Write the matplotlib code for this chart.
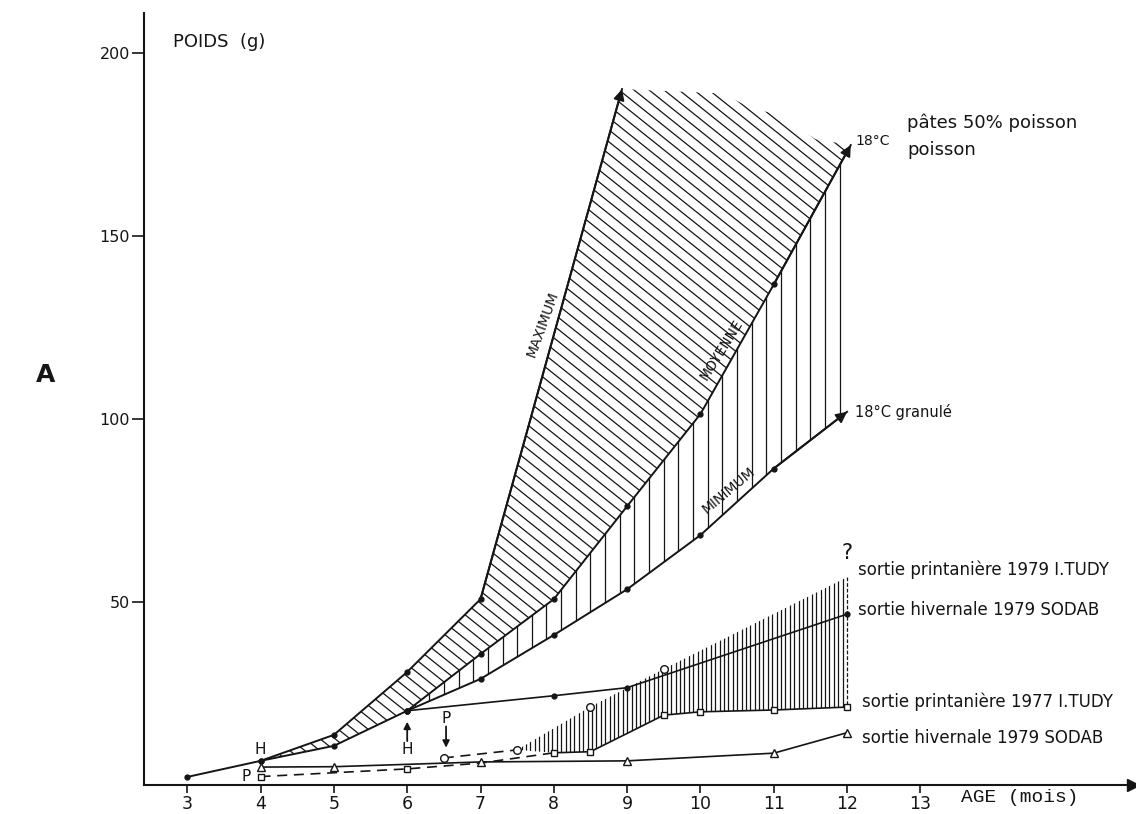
import numpy as np
import matplotlib.pyplot as plt
from matplotlib.patches import Polygon
from matplotlib.collections import LineCollection

plt.rcParams['font.family'] = ['DejaVu Sans']

INK = '#151515'

# courbes 18°C (poids en g selon l'age en mois)
max_x = [3, 4, 5, 6, 7, 8.93]
max_y = [2.2, 6.6, 13.7, 30.9, 50.8, 190.2]
moy_x = [4, 5, 6, 7, 8, 9, 10, 11, 12.05]
moy_y = [6.6, 10.7, 20.3, 35.8, 50.8, 76.2, 101.4, 136.8, 174.9]
min_x = [6, 7, 8, 9, 10, 11, 12.0]
min_y = [20.3, 29.0, 41.0, 53.5, 68.3, 86.5, 102.0]
# bord haut de la zone hachuree (fin des traits)
haut_x = [8.93, 10.3, 10.72, 11.0, 11.57, 12.05]
haut_y = [190.2, 189.0, 184.7, 183.6, 176.5, 174.9]

# sorties en mer
hiv79_x = [6, 8, 9, 12]
hiv79_y = [20.3, 24.4, 26.6, 46.7]
prin79_x = [6.5, 7.5, 8.5, 9.5, 12]
prin79_y = [7.4, 9.6, 21.4, 31.7, 56.8]
prin77_x = [4, 6, 7, 8, 8.5, 9.5, 10, 11, 12]
prin77_y = [2.3, 4.4, 6.0, 8.8, 9.1, 19.1, 20.0, 20.5, 21.3]
hiv79b_x = [4, 5, 7, 9, 11, 12]
hiv79b_y = [4.9, 5.0, 6.3, 6.6, 8.7, 14.3]

x_ticks = [3, 4, 5, 6, 7, 8, 9, 10, 11, 12, 13]
y_ticks = [50, 100, 150, 200]

fig = plt.figure(figsize=(11.36, 8.14), dpi=100)
ax = fig.add_axes([144 / 1136, 1 - 785 / 814, (1133 - 144) / 1136, (785 - 13) / 814])
ax.set_xlim(2.41, 15.9)
ax.set_ylim(0, 211)

for s in ['top', 'right']:
    ax.spines[s].set_visible(False)
for s in ['left', 'bottom']:
    ax.spines[s].set_linewidth(1.5)
    ax.spines[s].set_color(INK)
ax.plot(1, 0, '>', color=INK, ms=8, transform=ax.get_yaxis_transform(), clip_on=False)
ax.plot(0, 1, '^', color=INK, ms=8, transform=ax.get_xaxis_transform(), clip_on=False)

ax.set_xticks(x_ticks)
ax.set_yticks(y_ticks)
ax.tick_params(axis='x', direction='out', length=6, width=1.2, labelsize=12.5, pad=1, colors=INK)
ax.tick_params(axis='y', direction='out', length=9, width=1.2, labelsize=11.5, pad=1, colors=INK)

# echelle en pixels pour les hachures
p0 = ax.transData.transform((0, 0))
p1 = ax.transData.transform((1, 1))
sx, sy = p1[0] - p0[0], p1[1] - p0[1]


def hachures(poly, segs, lw=0.9):
    patch = Polygon(poly, closed=True, fc='none', ec='none')
    ax.add_patch(patch)
    lc = LineCollection(segs, colors=INK, linewidths=lw)
    ax.add_collection(lc)
    lc.set_clip_path(patch)


# zone maximum / moyenne : traits obliques
poly1 = list(zip(max_x[1:], max_y[1:])) + list(zip(haut_x[1:], haut_y[1:])) \
    + list(zip(moy_x[::-1], moy_y[::-1]))
pente = -0.8 * sx / sy
pas = 12.0 / sy
segs = [[(2.5, c + pente * (2.5 - 8)), (13, c + pente * (13 - 8))]
        for c in np.arange(-150, 320, pas)]
hachures(poly1, segs)

# zone moyenne / minimum : traits verticaux
poly2 = list(zip(moy_x[2:], moy_y[2:])) + list(zip(min_x[::-1], min_y[::-1]))
segs = [[(x, 0), (x, 211)] for x in np.arange(11.9, 6.0, -0.2)]
hachures(poly2, segs)

# zone sorties printanieres : traits serres
poly3 = list(zip(prin79_x[1:], prin79_y[1:])) \
    + list(zip(prin77_x[:2:-1], prin77_y[:2:-1])) + [(prin79_x[1], prin79_y[1])]
segs = [[(x, 0), (x, 120)] for x in np.arange(7.5, 12.0, 0.06)]
hachures(poly3, segs, lw=0.9)
ax.plot([prin79_x[-1], prin77_x[-1]], [prin79_y[-1], prin77_y[-1]],
        color=INK, lw=0.9, ls=(0, (3, 1.5)))

# courbes principales avec fleches
for xs, ys in [(max_x, max_y), (moy_x, moy_y), (min_x, min_y)]:
    ax.plot(xs, ys, color=INK, lw=1.4)
    ax.plot(xs[:-1], ys[:-1], 'o', color=INK, ms=3.5)
    ax.annotate('', xy=(xs[-1], ys[-1]), xytext=(xs[-2], ys[-2]),
                arrowprops=dict(arrowstyle='-|>', color=INK, lw=1.4,
                                mutation_scale=16, shrinkA=0, shrinkB=0))

# sorties
ax.plot(hiv79_x, hiv79_y, '-o', color=INK, lw=1.2, ms=3.5)
ax.plot(prin79_x[:2], prin79_y[:2], color=INK, lw=1.2, ls=(0, (6, 4)))
ax.plot(prin79_x[:4], prin79_y[:4], 'o', color=INK, mfc='white', ms=5.5, mew=1.0)
ax.plot(prin77_x[:4], prin77_y[:4], color=INK, lw=1.2, ls=(0, (6, 4)))
ax.plot(prin77_x[3:], prin77_y[3:], color=INK, lw=1.2)
ax.plot(prin77_x, prin77_y, 's', color=INK, mfc='white', ms=4.5, mew=1.0,
        markevery=[0, 1, 3, 4, 5, 6, 7, 8])
ax.plot(hiv79b_x, hiv79b_y, '-^', color=INK, mfc='white', lw=1.2, ms=5.5, mew=1.0)

# textes
ax.text(2.81, 203, 'POIDS  (g)', fontsize=13, color=INK, va='center')
ax.text(13.56, -3.3, 'AGE (mois)', fontsize=14, family='Liberation Mono',
        color=INK, va='center', clip_on=False)
fig.text(0.04, 0.539, 'A', fontsize=18, fontweight='bold', color=INK,
         ha='center', va='center')

ax.text(7.85, 126, 'MAXIMUM', fontsize=10, rotation=70, ha='center', va='center', color=INK)
ax.text(10.28, 119, 'MOYENNE', fontsize=10, rotation=58, ha='center', va='center', color=INK)
ax.text(10.39, 80.5, 'MINIMUM', fontsize=10, rotation=40, ha='center', va='center', color=INK)

ax.text(12.11, 176, '18°C', fontsize=10, color=INK, va='center')
ax.text(12.82, 181, 'pâtes 50% poisson', fontsize=13, color=INK, va='center')
ax.text(12.82, 173.5, 'poisson', fontsize=13, color=INK, va='center')
ax.text(12.11, 102, '18°C granulé', fontsize=10.5, color=INK, va='center')

ax.text(12.0, 63.5, '?', fontsize=15, color=INK, ha='center', va='center')
ax.text(12.15, 58.7, 'sortie printanière 1979 I.TUDY', fontsize=12, color=INK, va='center')
ax.text(12.15, 47.8, 'sortie hivernale 1979 SODAB', fontsize=12, color=INK, va='center')
ax.text(12.21, 22.8, 'sortie printanière 1977 I.TUDY', fontsize=12, color=INK, va='center')
ax.text(12.21, 12.8, 'sortie hivernale 1979 SODAB', fontsize=12, color=INK, va='center')

# reperes H (hivernale) et P (printaniere)
ax.text(4.0, 9.8, 'H', fontsize=11, ha='center', va='center', color=INK)
ax.text(3.8, 2.3, 'P', fontsize=11, ha='center', va='center', color=INK)
ax.text(6.0, 9.6, 'H', fontsize=11, ha='center', va='center', color=INK)
ax.annotate('', xy=(6.0, 17.3), xytext=(6.0, 12.0),
            arrowprops=dict(arrowstyle='-|>', color=INK, lw=1.3, mutation_scale=10,
                            shrinkA=0, shrinkB=0))
ax.text(6.53, 18.2, 'P', fontsize=11, ha='center', va='center', color=INK)
ax.annotate('', xy=(6.53, 10.2), xytext=(6.53, 16.0),
            arrowprops=dict(arrowstyle='-|>', color=INK, lw=1.3, mutation_scale=10,
                            shrinkA=0, shrinkB=0))

fig.savefig('out.png', dpi=100, facecolor='white')
